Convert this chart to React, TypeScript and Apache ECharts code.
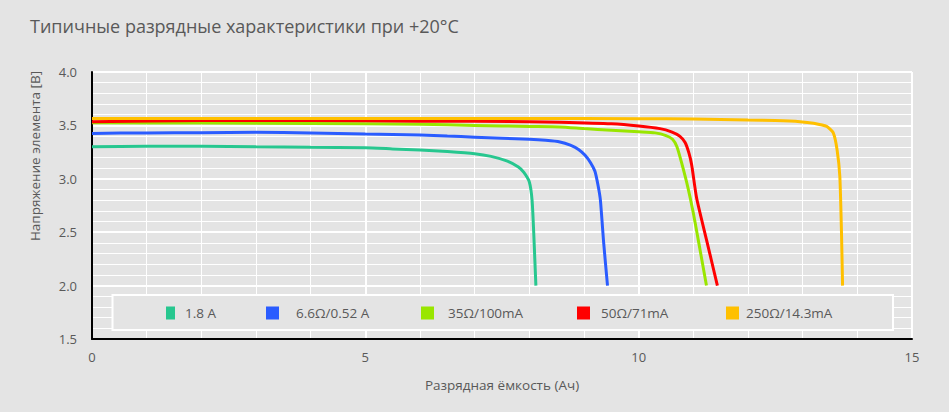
import React, { useEffect, useRef } from "react";
import * as echarts from "echarts";

const chartTitle = "Типичные разрядные характеристики при +20°C";
const xAxisName = "Разрядная ёмкость (Ач)";
const yAxisName = "Напряжение элемента [В]";

const seriesNames = ["1.8 A", "6.6Ω/0.52 A", "35Ω/100mA", "50Ω/71mA", "250Ω/14.3mA"];
const seriesColors = ["#27c78f", "#2a5cff", "#99e600", "#ff0000", "#ffc000"];

// 1.8 A
const capA = [0, 1, 2, 3, 4, 5, 5.5, 6, 6.5, 7, 7.3, 7.6, 7.8, 7.9, 8.0, 8.05, 8.08, 8.1, 8.12];
const voltA = [3.30, 3.305, 3.305, 3.30, 3.295, 3.29, 3.28, 3.27, 3.255, 3.235, 3.21, 3.165, 3.11, 3.06, 2.97, 2.80, 2.5, 2.25, 2.0];
// 6.6Ω/0.52 A
const capB = [0, 1, 2, 3, 4, 5, 6, 6.5, 7, 7.5, 8, 8.3, 8.56, 8.75, 8.9, 9.02, 9.12, 9.2, 9.26, 9.3, 9.36, 9.43];
const voltB = [3.425, 3.43, 3.432, 3.435, 3.43, 3.42, 3.41, 3.40, 3.39, 3.38, 3.37, 3.36, 3.345, 3.315, 3.275, 3.22, 3.15, 3.07, 2.93, 2.80, 2.40, 2.0];
// 35Ω/100mA
const capC = [0, 2, 4, 6, 7, 8, 8.56, 9, 9.5, 10, 10.3, 10.5, 10.62, 10.7, 10.78, 10.9, 11.0, 11.1, 11.24];
const voltC = [3.525, 3.522, 3.518, 3.51, 3.50, 3.49, 3.485, 3.47, 3.455, 3.44, 3.43, 3.405, 3.37, 3.30, 3.16, 2.92, 2.68, 2.40, 2.0];
// 50Ω/71mA
const capD = [0, 2, 4, 6, 8, 8.56, 9.5, 10.0, 10.39, 10.6, 10.75, 10.85, 10.92, 10.97, 11.06, 11.25, 11.44];
const voltD = [3.535, 3.545, 3.545, 3.54, 3.535, 3.53, 3.515, 3.495, 3.47, 3.44, 3.40, 3.34, 3.24, 3.13, 2.82, 2.41, 2.0];
// 250Ω/14.3mA
const capE = [0, 2, 4, 6, 8, 10, 11, 12, 12.5, 12.95, 13.2, 13.44, 13.56, 13.63, 13.68, 13.71, 13.73];
const voltE = [3.565, 3.565, 3.565, 3.565, 3.565, 3.562, 3.56, 3.55, 3.545, 3.535, 3.52, 3.49, 3.43, 3.27, 3.02, 2.5, 2.0];

const capacities = [capA, capB, capC, capD, capE];
const voltages = [voltA, voltB, voltC, voltD, voltE];

const xTicks = { min: 0, max: 15, interval: 5 };
const yTicks = { min: 1.5, max: 4, interval: 0.5 };

const FONT = "'Open Sans', sans-serif";
const TEXT_COLOR = "#595959";

export default function App() {
  const ref = useRef<HTMLDivElement>(null);

  useEffect(() => {
    if (!ref.current) return;
    const chart = echarts.init(ref.current, undefined, { renderer: "svg" });

    const legendLayout = [
      { left: 166, w: 9, pad: 5 },
      { left: 266, w: 13, pad: 12 },
      { left: 421, w: 13, pad: 9 },
      { left: 577, w: 13, pad: 6 },
      { left: 726, w: 13, pad: 2 },
    ];

    const series = seriesNames.map((name, i) => ({
      name,
      type: "line",
      data: capacities[i].map((c, k) => [c, voltages[i][k]]),
      showSymbol: false,
      symbol: "none",
      smooth: 0.2,
      color: seriesColors[i],
      lineStyle: { width: 3, color: seriesColors[i] },
      z: 2 + i,
    }));

    const legends = seriesNames.map((name, i) => ({
      data: [name],
      left: legendLayout[i].left,
      top: 306,
      padding: 0,
      icon: "rect",
      itemWidth: legendLayout[i].w,
      itemHeight: 13,
      z: 60,
      textStyle: {
        color: TEXT_COLOR,
        fontFamily: FONT,
        fontSize: 13.5,
        padding: [0, 0, 0, legendLayout[i].pad],
      },
    }));

    chart.setOption({
      animation: false,
      backgroundColor: "#e4e4e4",
      textStyle: { fontFamily: FONT },
      title: {
        text: chartTitle,
        left: 30,
        top: 17,
        padding: 0,
        textStyle: { color: TEXT_COLOR, fontFamily: FONT, fontSize: 18, fontWeight: "normal" },
      },
      grid: { left: 92, right: 37, top: 72, bottom: 73, containLabel: false },
      legend: legends,
      xAxis: {
        type: "value",
        min: xTicks.min,
        max: xTicks.max,
        interval: xTicks.interval,
        name: xAxisName,
        nameLocation: "middle",
        nameGap: 39,
        nameTextStyle: { color: TEXT_COLOR, fontFamily: FONT, fontSize: 13.5 },
        axisLine: { show: true, lineStyle: { color: "#000", width: 2 } },
        axisTick: { show: false },
        axisLabel: { color: TEXT_COLOR, fontFamily: FONT, fontSize: 13, margin: 11 },
        splitLine: { show: true, lineStyle: { color: "#ffffff", width: 2 } },
        minorTick: { show: false, splitNumber: 5 },
        minorSplitLine: { show: true, lineStyle: { color: "#ffffff", width: 1 } },
      },
      yAxis: {
        type: "value",
        min: yTicks.min,
        max: yTicks.max,
        interval: yTicks.interval,
        axisLine: { show: true, lineStyle: { color: "#000", width: 2 } },
        axisTick: { show: false },
        axisLabel: {
          color: TEXT_COLOR,
          fontFamily: FONT,
          fontSize: 13,
          margin: 15,
          formatter: (v: number) => v.toFixed(1),
        },
        splitLine: { show: true, lineStyle: { color: "#ffffff", width: 2 } },
        minorTick: { show: false, splitNumber: 5 },
        minorSplitLine: { show: true, lineStyle: { color: "#ffffff", width: 1 } },
      },
      graphic: [
        {
          type: "rect",
          z: 50,
          shape: { x: 112.5, y: 295, width: 780.5, height: 35 },
          style: { fill: "#e4e4e4", stroke: "#ffffff", lineWidth: 2 },
        },
        {
          type: "text",
          z: 50,
          x: 35,
          y: 156,
          rotation: Math.PI / 2,
          style: {
            text: yAxisName,
            fill: TEXT_COLOR,
            font: `13.5px ${FONT}`,
            align: "center",
            verticalAlign: "middle",
          },
        },
      ],
      series,
    });

    return () => chart.dispose();
  }, []);

  return (
    <div
      ref={ref}
      style={{ position: "absolute", left: 0, top: 0, width: 949, height: 412 }}
    />
  );
}
